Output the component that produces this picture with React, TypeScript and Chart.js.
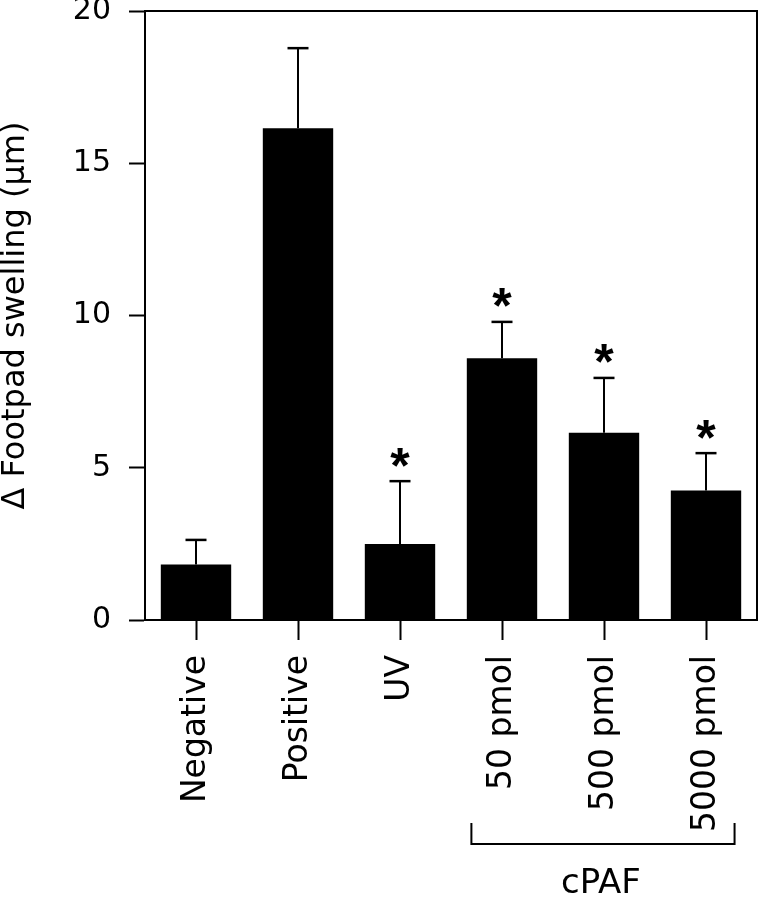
import React, { useEffect, useRef } from "react";
import { Chart, registerables } from "chart.js";

Chart.register(...registerables);

const categories = ["Negative", "Positive", "UV", "50 pmol", "500 pmol", "5000 pmol"];
const meanSwelling = [1.82, 16.15, 2.5, 8.6, 6.15, 4.25];
const semSwelling = [0.81, 2.63, 2.06, 1.19, 1.8, 1.23];
const significant = [false, false, true, true, true, true];
const yTicks = [0, 5, 10, 15, 20];
const groupLabel = "cPAF";
const groupFrom = 3;
const groupTo = 5;
const yTitle = "Δ Footpad swelling (µm)";

const FONT = '"DejaVu Sans", sans-serif';

const decorPlugin = {
  id: "decor",
  afterDatasetsDraw(chart: any) {
    const { ctx, chartArea, scales } = chart;
    const x = scales.x;
    const y = scales.y;
    const meta = chart.getDatasetMeta(0);
    ctx.save();
    ctx.strokeStyle = "#000";
    ctx.fillStyle = "#000";
    // frame top & right
    ctx.lineWidth = 2;
    ctx.beginPath();
    ctx.moveTo(chartArea.left, chartArea.top);
    ctx.lineTo(chartArea.right, chartArea.top);
    ctx.lineTo(chartArea.right, chartArea.bottom);
    ctx.stroke();
    // error bars
    meta.data.forEach((bar: any, i: number) => {
      const cx = bar.x;
      const yMean = y.getPixelForValue(meanSwelling[i]);
      const yTop = y.getPixelForValue(meanSwelling[i] + semSwelling[i]);
      ctx.lineWidth = 2;
      ctx.beginPath();
      ctx.moveTo(cx, yMean);
      ctx.lineTo(cx, yTop);
      ctx.stroke();
      ctx.lineWidth = 2.5;
      ctx.beginPath();
      ctx.moveTo(cx - 10.5, yTop);
      ctx.lineTo(cx + 10.5, yTop);
      ctx.stroke();
      if (significant[i]) {
        ctx.font = 'bold 50px "Liberation Sans", sans-serif';
        ctx.textAlign = "center";
        ctx.textBaseline = "alphabetic";
        const m = ctx.measureText("*");
        const targetY = yTop - 24;
        const baseline = targetY - (m.actualBoundingBoxDescent - m.actualBoundingBoxAscent) / 2;
        ctx.fillText("*", cx, baseline);
      }
    });
    // group bracket
    const step = x.getPixelForValue(1) - x.getPixelForValue(0);
    const bl = x.getPixelForValue(groupFrom) - 0.3 * step;
    const br = x.getPixelForValue(groupTo) + 0.28 * step;
    const bTop = chartArea.bottom + 203;
    const bBot = chartArea.bottom + 224;
    ctx.lineWidth = 2;
    ctx.beginPath();
    ctx.moveTo(bl, bTop);
    ctx.lineTo(bl, bBot);
    ctx.lineTo(br, bBot);
    ctx.lineTo(br, bTop);
    ctx.stroke();
    ctx.font = `34px ${FONT}`;
    ctx.textAlign = "center";
    ctx.textBaseline = "middle";
    ctx.fillText(groupLabel, (bl + br) / 2 - 2, chartArea.bottom + 264);
    ctx.restore();
  },
};

export default function App() {
  const ref = useRef<HTMLCanvasElement | null>(null);
  useEffect(() => {
    if (!ref.current) return;
    const chart = new Chart(ref.current, {
      type: "bar",
      data: {
        labels: categories,
        datasets: [
          {
            data: meanSwelling,
            backgroundColor: "#000",
            borderWidth: 0,
            barPercentage: 0.69,
            categoryPercentage: 1,
          },
        ],
      },
      options: {
        responsive: false,
        animation: false,
        devicePixelRatio: 1,
        layout: { padding: { top: 11, right: 4, left: 0, bottom: 0 } },
        plugins: { legend: { display: false }, tooltip: { enabled: false } },
        scales: {
          x: {
            type: "category",
            grid: {
              offset: false,
              drawOnChartArea: false,
              drawTicks: true,
              tickLength: 20,
              tickWidth: 2,
              tickColor: "#000",
            },
            border: { display: true, color: "#000", width: 2 },
            ticks: {
              autoSkip: false,
              minRotation: 90,
              maxRotation: 90,
              padding: 15,
              color: "#000",
              font: { family: FONT, size: 33 },
            },
            afterFit: (s: any) => {
              s.height = 280;
              s.paddingLeft = 0;
              s.paddingRight = 0;
            },
          },
          y: {
            min: 0,
            max: 20,
            afterBuildTicks: (s: any) => {
              s.ticks = yTicks.map((v) => ({ value: v }));
            },
            grid: {
              drawOnChartArea: false,
              drawTicks: true,
              tickLength: 16,
              tickWidth: 2,
              tickColor: "#000",
            },
            border: { display: true, color: "#000", width: 2 },
            ticks: {
              padding: 18,
              color: "#000",
              font: { family: FONT, size: 30 },
            },
            title: {
              display: true,
              text: yTitle,
              color: "#000",
              font: { family: FONT, size: 32, lineHeight: 1 },
              padding: { top: 0, bottom: 0 },
            },
            afterFit: (s: any) => {
              s.width = 145;
              s.paddingTop = 0;
              s.paddingBottom = 0;
            },
          },
        },
      },
      plugins: [decorPlugin],
    });
    return () => chart.destroy();
  }, []);
  return (
    <div style={{ position: "absolute", left: 0, top: 0, width: 761, height: 900, background: "#fff" }}>
      <canvas ref={ref} width={761} height={900} />
    </div>
  );
}
